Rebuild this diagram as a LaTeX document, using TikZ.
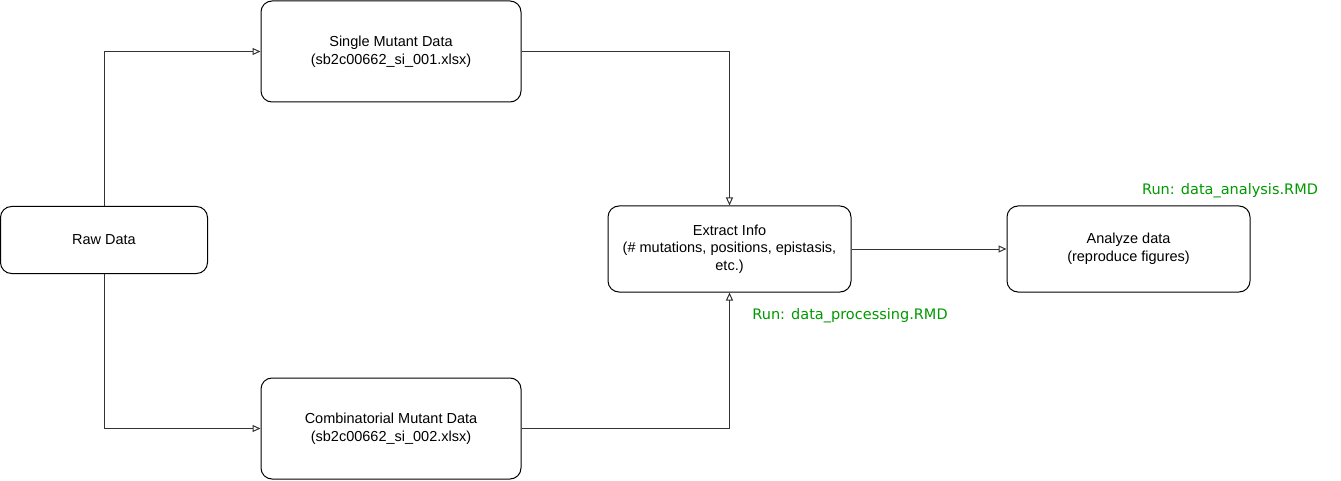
\documentclass[tikz,border=0pt]{standalone}
\usepackage{fontspec}
\setmainfont{Liberation Sans}
\newfontfamily\greenfont{DejaVu Sans}
\usetikzlibrary{arrows.meta}
\definecolor{rungreen}{HTML}{009900}
\definecolor{linegray}{HTML}{333333}
\tikzset{
  box/.style={draw=black, line width=1pt, rounded corners=11pt, align=center, inner sep=0pt, font=\fontsize{14.5}{17.5}\selectfont},
  conn/.style={draw=linegray, line width=1pt, -{Triangle[open, length=8pt, width=7pt]}},
  runlabel/.style={text=rungreen, font=\greenfont\fontsize{14.5}{17}\selectfont, anchor=center, inner sep=0pt}
}
\begin{document}
\begin{tikzpicture}[x=1pt, y=-1pt]
\useasboundingbox (0,0) rectangle (1341,481);
\node[box, minimum width=207pt, minimum height=67pt] (raw) at (104,240) {Raw Data};
\node[box, minimum width=260pt, minimum height=101pt] (single) at (391,51.5) {Single Mutant Data\\(sb2c00662\_si\_001.xlsx)};
\node[box, minimum width=260pt, minimum height=101pt] (comb) at (391,428.5) {Combinatorial Mutant Data\\(sb2c00662\_si\_002.xlsx)};
\node[box, minimum width=243pt, minimum height=86pt] (extract) at (729.5,249) {Extract Info\\(\# mutations, positions, epistasis,\\etc.)};
\node[box, minimum width=243pt, minimum height=86pt] (analyze) at (1128.5,249) {Analyze data\\(reproduce figures)};
\node[runlabel] (runanalysis) at (1230,191) {Run: data\_analysis.RMD};
\node[runlabel] (runprocessing) at (850,316) {Run: data\_processing.RMD};
\draw[conn] (raw.north) |- (single.west);
\draw[conn] (raw.south) |- (comb.west);
\draw[conn] (single.east) -| (extract.north);
\draw[conn] (comb.east) -| (extract.south);
\draw[conn] (extract.east) -- (analyze.west);
\end{tikzpicture}
\end{document}
